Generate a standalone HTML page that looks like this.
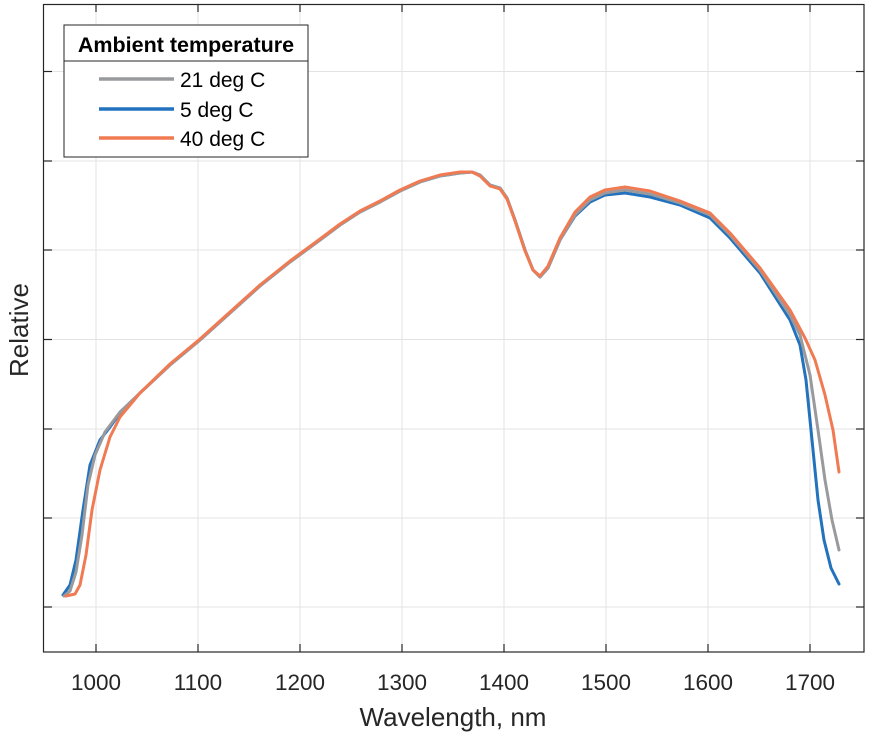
<!DOCTYPE html>
<html><head><meta charset="utf-8"><style>
html,body{margin:0;padding:0;background:#fff;}
svg{display:block;font-family:"Liberation Sans",sans-serif;}
</style></head><body>
<svg width="871" height="737" viewBox="0 0 871 737" xmlns="http://www.w3.org/2000/svg">
<rect width="871" height="737" fill="#fff"/>
<g stroke="#e3e3e3" stroke-width="1">
<line x1="96" y1="4.5" x2="96" y2="652"/><line x1="198" y1="4.5" x2="198" y2="652"/>
<line x1="300" y1="4.5" x2="300" y2="652"/><line x1="402" y1="4.5" x2="402" y2="652"/>
<line x1="504" y1="4.5" x2="504" y2="652"/><line x1="606" y1="4.5" x2="606" y2="652"/>
<line x1="708" y1="4.5" x2="708" y2="652"/><line x1="810" y1="4.5" x2="810" y2="652"/>
<line x1="43.5" y1="71.5" x2="864" y2="71.5"/><line x1="43.5" y1="161" x2="864" y2="161"/>
<line x1="43.5" y1="250" x2="864" y2="250"/><line x1="43.5" y1="339.5" x2="864" y2="339.5"/>
<line x1="43.5" y1="429" x2="864" y2="429"/><line x1="43.5" y1="518" x2="864" y2="518"/>
<line x1="43.5" y1="607" x2="864" y2="607"/>
</g>
<g fill="none" stroke-width="3" stroke-linejoin="round" stroke-linecap="round">
<polyline stroke="#2272bd" points="63,595 70,585 76,560 83,510 90,465 100,440 110,427 120,413 140,393 170,365 200,340 230,313 260,286 290,262 320,240 340,225 360,212 380,202 400,191 420,182 440,176 460,173 472,172 480,175 490,185 500,188 507,198 515,220 525,250 533,270 540,277 548,268 560,240 575,216 590,202 605,195 625,193 650,197 680,205 710,218 730,238 760,273 790,320 800,345 806,380 812,440 818,500 824,540 831,568 839,584"/>
<polyline stroke="#999a9e" points="64,596 70,591 76,572 82,535 88,485 95,455 105,432 120,412 140,393 170,365 200,340 230,313 260,286 290,262 320,240 340,225 360,212 380,202 400,191 420,182 440,176 460,173 472,172 480,175 490,185 500,188 507,198 515,220 525,250 533,270 540,277 548,268 560,240 575,215 590,200 605,193 625,190 650,194 680,203 710,215 730,235 760,270 790,315 800,335 810,375 818,430 825,480 832,520 839,550"/>
<polyline stroke="#f07a52" points="66,596 75,594 80,585 86,555 92,510 100,470 110,437 120,417 140,393 170,364 200,339 230,312 260,285 290,261 320,239 340,224 360,211 380,201 400,190 420,181 440,175 460,172 472,172 480,176 490,186 500,189 507,199 515,221 525,251 533,270 540,276 548,266 560,238 575,212 590,197 605,190 625,187 650,191 680,201 710,213 730,233 760,268 790,310 805,338 815,360 825,395 833,430 839,472"/>
</g>
<rect x="43.5" y="4.5" width="820.5" height="647.5" fill="none" stroke="#262626" stroke-width="1.2"/>
<g stroke="#262626" stroke-width="1.2">
<line x1="96" y1="652" x2="96" y2="644"/><line x1="198" y1="652" x2="198" y2="644"/>
<line x1="300" y1="652" x2="300" y2="644"/><line x1="402" y1="652" x2="402" y2="644"/>
<line x1="504" y1="652" x2="504" y2="644"/><line x1="606" y1="652" x2="606" y2="644"/>
<line x1="708" y1="652" x2="708" y2="644"/><line x1="810" y1="652" x2="810" y2="644"/>
<line x1="96" y1="4.5" x2="96" y2="12"/><line x1="198" y1="4.5" x2="198" y2="12"/>
<line x1="300" y1="4.5" x2="300" y2="12"/><line x1="402" y1="4.5" x2="402" y2="12"/>
<line x1="504" y1="4.5" x2="504" y2="12"/><line x1="606" y1="4.5" x2="606" y2="12"/>
<line x1="708" y1="4.5" x2="708" y2="12"/><line x1="810" y1="4.5" x2="810" y2="12"/>
<line x1="43.5" y1="71.5" x2="52" y2="71.5"/><line x1="43.5" y1="161" x2="52" y2="161"/>
<line x1="43.5" y1="250" x2="52" y2="250"/><line x1="43.5" y1="339.5" x2="52" y2="339.5"/>
<line x1="43.5" y1="429" x2="52" y2="429"/><line x1="43.5" y1="518" x2="52" y2="518"/>
<line x1="43.5" y1="607" x2="52" y2="607"/>
<line x1="864" y1="71.5" x2="856" y2="71.5"/><line x1="864" y1="161" x2="856" y2="161"/>
<line x1="864" y1="250" x2="856" y2="250"/><line x1="864" y1="339.5" x2="856" y2="339.5"/>
<line x1="864" y1="429" x2="856" y2="429"/><line x1="864" y1="518" x2="856" y2="518"/>
<line x1="864" y1="607" x2="856" y2="607"/>
</g>
<g font-size="22.5" fill="#262626" text-anchor="middle">
<text x="96" y="690">1000</text><text x="198" y="690">1100</text><text x="300" y="690">1200</text>
<text x="402" y="690">1300</text><text x="504" y="690">1400</text><text x="606" y="690">1500</text>
<text x="708" y="690">1600</text><text x="810" y="690">1700</text>
</g>
<text x="453" y="726" font-size="26" fill="#262626" text-anchor="middle">Wavelength, nm</text>
<text transform="translate(28,330) rotate(-90)" font-size="26" fill="#262626" text-anchor="middle">Relative</text>
<rect x="64" y="25" width="244" height="132" fill="#fff" stroke="#262626" stroke-width="1"/>
<line x1="64" y1="61" x2="308" y2="61" stroke="#262626" stroke-width="1"/>
<text x="186" y="52" font-size="21.5" font-weight="bold" fill="#000" text-anchor="middle">Ambient temperature</text>
<g stroke-width="3.5">
<line x1="99" y1="79" x2="174" y2="79" stroke="#999a9e"/>
<line x1="99" y1="109" x2="174" y2="109" stroke="#2272bd"/>
<line x1="99" y1="138" x2="174" y2="138" stroke="#f07a52"/>
</g>
<g font-size="21" fill="#000">
<text x="180" y="87">21 deg C</text>
<text x="180" y="117">5 deg C</text>
<text x="180" y="146">40 deg C</text>
</g>
</svg>
</body></html>
